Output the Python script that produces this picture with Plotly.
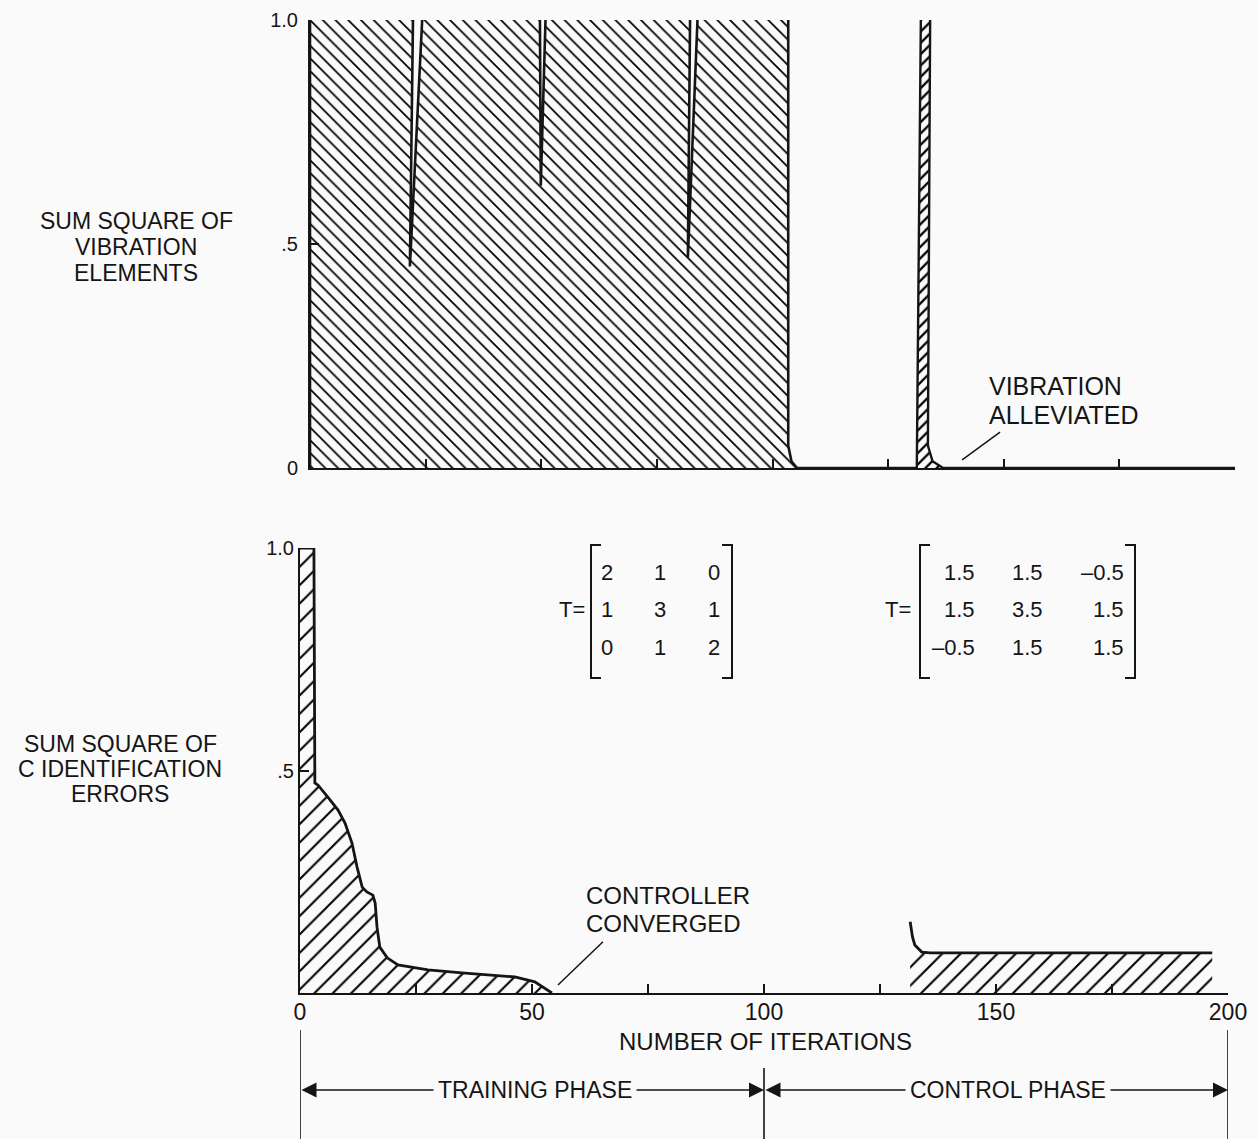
import numpy as np
import plotly.graph_objects as go

# ---------------- data ----------------
# Top panel: sum square of vibration elements (values > 1.0 run off the top of the scale)
train_vib_x = [0.0, 0.0, 22.3, 21.6, 24.4, 49.7, 49.9, 51.0, 82.2, 81.7, 83.9, 103.4, 103.4, 104.1, 105.3]
train_vib_y = [0.0, 1.03, 1.03, 0.45, 1.03, 1.03, 0.63, 1.03, 1.03, 0.47, 1.03, 1.03, 0.05, 0.015, 0.0]

ctrl_vib_x = [105.3, 131.2, 132.1, 134.1, 133.6, 134.6, 136.9, 200.0]
ctrl_vib_y = [0.0, 0.0, 1.03, 1.03, 0.05, 0.015, 0.0, 0.0]

# Bottom panel: sum square of C identification errors
train_err_x = [0.0, 3.0, 3.2, 3.9, 6.0, 8.2, 9.7, 11.2, 12.3, 13.4, 14.4, 15.7, 16.2, 16.6,
               17.2, 18.8, 21.1, 27.6, 34.9, 42.0, 46.3, 50.6, 53.4, 54.3]
train_err_y = [1.0, 1.0, 0.472, 0.467, 0.440, 0.411, 0.382, 0.337, 0.283, 0.238, 0.227, 0.220,
               0.202, 0.148, 0.103, 0.079, 0.063, 0.052, 0.045, 0.040, 0.036, 0.025, 0.007, 0.0]

ctrl_err_x = [131.5, 132.0, 132.5, 134.0, 135.8, 196.6]
ctrl_err_y = [0.160, 0.126, 0.108, 0.092, 0.090, 0.090]

x_ticks = [0, 25, 50, 75, 100, 125, 150, 175, 200]
x_ticklabels = ["0", "", "50", "", "100", "", "150", "", "200"]
top_y_ticks = [0, 0.5, 1.0]
top_y_ticklabels = ["0", ".5", "1.0"]
bot_y_ticks = [0.5, 1.0]
bot_y_ticklabels = [".5", "1.0"]

phases = [("TRAINING PHASE", 0, 100, 50.6), ("CONTROL PHASE", 100, 200, 152.6)]

T_train = [["2", "1", "0"], ["1", "3", "1"], ["0", "1", "2"]]
T_ctrl = [["1.5", "1.5", "-0.5"], ["1.5", "3.5", "1.5"], ["-0.5", "1.5", "1.5"]]

top_title = ["SUM SQUARE OF", "VIBRATION", "ELEMENTS"]
bot_title = ["SUM SQUARE OF", "C IDENTIFICATION", "ERRORS"]
note_vib = ["VIBRATION", "ALLEVIATED"]
note_ctrl = ["CONTROLLER", "CONVERGED"]

# ---------------- styling ----------------
W, H = 1258, 1139
BG = "#fafafa"
INK = "#151515"
FONT = "Liberation Sans, Arial, sans-serif"


def px(x):
    return x / W


def py(y):
    return 1 - y / H


fig = go.Figure()

# top panel traces
fig.add_trace(go.Scatter(
    x=train_vib_x, y=train_vib_y, mode="lines", xaxis="x", yaxis="y",
    line=dict(color=INK, width=2.6), fill="tozeroy", fillcolor=BG,
    fillpattern=dict(shape="\\", size=9, solidity=0.19, fgcolor="#000000", bgcolor=BG),
    hoverinfo="skip", showlegend=False))
fig.add_trace(go.Scatter(
    x=ctrl_vib_x, y=ctrl_vib_y, mode="lines", xaxis="x", yaxis="y",
    line=dict(color=INK, width=2.4), fill="tozeroy", fillcolor=BG,
    fillpattern=dict(shape="/", size=8, solidity=0.28, fgcolor="#000000", bgcolor=BG),
    hoverinfo="skip", showlegend=False))

# bottom panel traces
fig.add_trace(go.Scatter(
    x=train_err_x, y=train_err_y, mode="lines", xaxis="x2", yaxis="y2",
    line=dict(color=INK, width=2.8), fill="tozeroy", fillcolor=BG,
    fillpattern=dict(shape="/", size=13, solidity=0.16, fgcolor="#000000", bgcolor=BG),
    hoverinfo="skip", showlegend=False))
plateau = ctrl_err_y[-1]
fig.add_trace(go.Scatter(
    x=ctrl_err_x, y=list(np.minimum(ctrl_err_y, plateau)), mode="lines", xaxis="x2", yaxis="y2",
    line=dict(width=0), fill="tozeroy", fillcolor=BG,
    fillpattern=dict(shape="/", size=13, solidity=0.16, fgcolor="#000000", bgcolor=BG),
    hoverinfo="skip", showlegend=False))
fig.add_trace(go.Scatter(
    x=ctrl_err_x, y=ctrl_err_y, mode="lines", xaxis="x2", yaxis="y2",
    line=dict(color=INK, width=2.8), hoverinfo="skip", showlegend=False))

axis_common = dict(showgrid=False, zeroline=False, showline=True, linecolor=INK, linewidth=2,
                   ticks="inside", ticklen=9, tickwidth=2, tickcolor=INK, automargin=False,
                   fixedrange=True)

fig.update_layout(
    template="none",
    width=W, height=H, margin=dict(l=0, r=0, t=0, b=0, pad=0), autosize=False,
    paper_bgcolor=BG, plot_bgcolor=BG, showlegend=False,
    xaxis=dict(domain=[px(310), px(1235)], range=[0, 200], anchor="y",
               tickvals=x_ticks, showticklabels=False, **axis_common),
    yaxis=dict(domain=[py(468), py(20)], range=[0, 1.0], anchor="x",
               tickvals=top_y_ticks, ticktext=top_y_ticklabels, ticklabelstandoff=6,
               tickfont=dict(family=FONT, size=20, color=INK), **axis_common),
    xaxis2=dict(domain=[px(300), px(1228)], range=[0, 200], anchor="y2",
                tickvals=x_ticks, ticktext=x_ticklabels, ticklabelstandoff=-3,
                tickfont=dict(family=FONT, size=23, color=INK), **axis_common),
    yaxis2=dict(domain=[py(993), py(548)], range=[0, 1.0], anchor="x2",
                tickvals=bot_y_ticks, ticktext=bot_y_ticklabels, ticklabelstandoff=0,
                tickfont=dict(family=FONT, size=20, color=INK), **axis_common),
)

ann = []


def text_lines(lines, xc, ys, size, anchor):
    for t, yv in zip(lines, ys):
        ann.append(dict(xref="paper", yref="paper", x=px(xc), y=py(yv), xanchor=anchor, yanchor="middle",
                        text=t, showarrow=False, font=dict(family=FONT, size=size, color=INK)))


# y-axis titles
text_lines(top_title, 136, [221, 247, 273], 23, "center")
text_lines(bot_title, 120, [744, 769, 794], 23, "center")
# callouts
text_lines(note_vib, 987, [386, 415], 25, "left")
text_lines(note_ctrl, 584, [895, 923], 24, "left")
# x title
text_lines(["NUMBER OF ITERATIONS"], 765, [1041], 24, "center")

# phase arrows and labels
arrow_y = py(1090)
for name, x0, x1, xc in phases:
    ann.append(dict(xref="x2", yref="paper", x=x1, y=arrow_y, axref="x2", ayref="pixel", ax=x0, ay=0,
                    showarrow=True, arrowside="end+start", arrowhead=2, arrowsize=2.0, arrowwidth=1.5,
                    arrowcolor=INK, text="", standoff=0, startstandoff=0))
    ann.append(dict(xref="x2", yref="paper", x=xc, y=arrow_y, xanchor="center", yanchor="middle",
                    text=name, showarrow=False, bgcolor=BG, borderpad=4,
                    font=dict(family=FONT, size=23, color=INK)))

# matrices
row_y = [572, 609, 647]
mfont = dict(family=FONT, size=22, color=INK)
ann.append(dict(xref="paper", yref="paper", x=px(587), y=py(609), xanchor="right", yanchor="middle",
                text="T=", showarrow=False, font=mfont))
for r, row in enumerate(T_train):
    for c, val in enumerate(row):
        ann.append(dict(xref="paper", yref="paper", x=px([607, 660, 714][c]), y=py(row_y[r]),
                        xanchor="center", yanchor="middle", text=val, showarrow=False, font=mfont))
ann.append(dict(xref="paper", yref="paper", x=px(913), y=py(609), xanchor="right", yanchor="middle",
                text="T=", showarrow=False, font=mfont))
for r, row in enumerate(T_ctrl):
    for c, val in enumerate(row):
        ann.append(dict(xref="paper", yref="paper", x=px([977, 1045, 1126][c]), y=py(row_y[r]),
                        xanchor="right", yanchor="middle", text=val.replace("-", "\u2013"),
                        showarrow=False, font=mfont))
fig.update_layout(annotations=ann)

shapes = []
line_style = dict(color=INK, width=2)


def bracket(xv, xs, top=545, bot=678):
    return dict(type="path", xref="paper", yref="paper",
                path=f"M {px(xs)} {py(top)} L {px(xv)} {py(top)} L {px(xv)} {py(bot)} L {px(xs)} {py(bot)}",
                line=line_style)


shapes += [bracket(591, 601), bracket(732, 722), bracket(920, 930), bracket(1135, 1125)]

# pointer lines
shapes.append(dict(type="line", xref="x", yref="y", x0=141.0, y0=0.018, x1=149.2, y1=0.08,
                   line=dict(color=INK, width=1.5)))
shapes.append(dict(type="line", xref="x2", yref="y2", x0=55.6, y0=0.018, x1=65.3, y1=0.115,
                   line=dict(color=INK, width=1.5)))
# phase boundary lines
for xv, ytop in [(0, 1030), (100, 1068), (200, 1030)]:
    shapes.append(dict(type="line", xref="x2", yref="paper", x0=xv, x1=xv, y0=py(ytop), y1=0,
                       line=dict(color=INK, width=1.6)))
fig.update_layout(shapes=shapes)

fig.write_html("out.html", config={"displayModeBar": False},
               post_script="document.body.style.margin='0';document.body.style.overflow='hidden';")
